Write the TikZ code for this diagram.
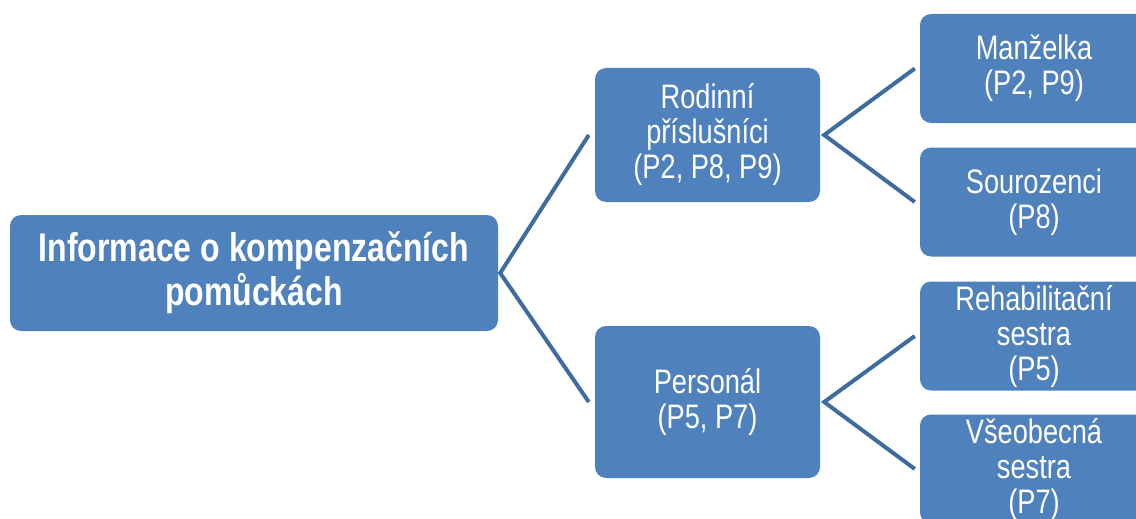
\documentclass[tikz,border=0pt]{standalone}
\usepackage{fontspec}
\setmainfont{Liberation Sans}[FakeStretch=0.8]
\definecolor{boxblue}{HTML}{4F81BD}
\definecolor{linkblue}{HTML}{3F6C9E}
\begin{document}
\begin{tikzpicture}[x=1pt,y=-1pt,
  box/.style={draw=none,fill=boxblue,rounded corners=11pt,text=white,align=center,
    inner sep=0pt,font=\fontsize{34}{35}\selectfont},
  rootbox/.style={box,minimum width=488pt,minimum height=116pt,
    font=\fontsize{40}{44}\selectfont\bfseries},
  midbox/.style={box,minimum width=225pt},
  leafbox/.style={box,minimum width=228pt,minimum height=109pt},
  link/.style={draw=linkblue,line width=4pt}]
\useasboundingbox (0,0) rectangle (1136,519);
% root
\node[rootbox] (root) at (254,273) {Informace o kompenzačních\\pomůckách};
% second level
\node[midbox,minimum height=134pt] (rod) at (707.5,135) {Rodinní\\příslušníci\\(P2, P8, P9)};
\node[midbox,minimum height=152pt] (per) at (707.5,402) {Personál\\(P5, P7)};
% leaves
\node[leafbox] (man) at (1034,68.5) {Manželka\\(P2, P9)};
\node[leafbox] (sou) at (1034,202) {Sourozenci\\(P8)};
\node[leafbox] (reh) at (1034,336) {Rehabilitační\\sestra\\(P5)};
\node[leafbox] (vse) at (1034,469) {Všeobecná\\sestra\\(P7)};
% connectors
\draw[link] ([xshift=-6pt]rod.west) -- ([xshift=2pt]root.east) -- ([xshift=-6pt]per.west);
\draw[link] ([xshift=-5pt]man.west) -- ([xshift=4pt]rod.east) -- ([xshift=-5pt]sou.west);
\draw[link] ([xshift=-5pt]reh.west) -- ([xshift=4pt]per.east) -- ([xshift=-5pt]vse.west);
\end{tikzpicture}
\end{document}
